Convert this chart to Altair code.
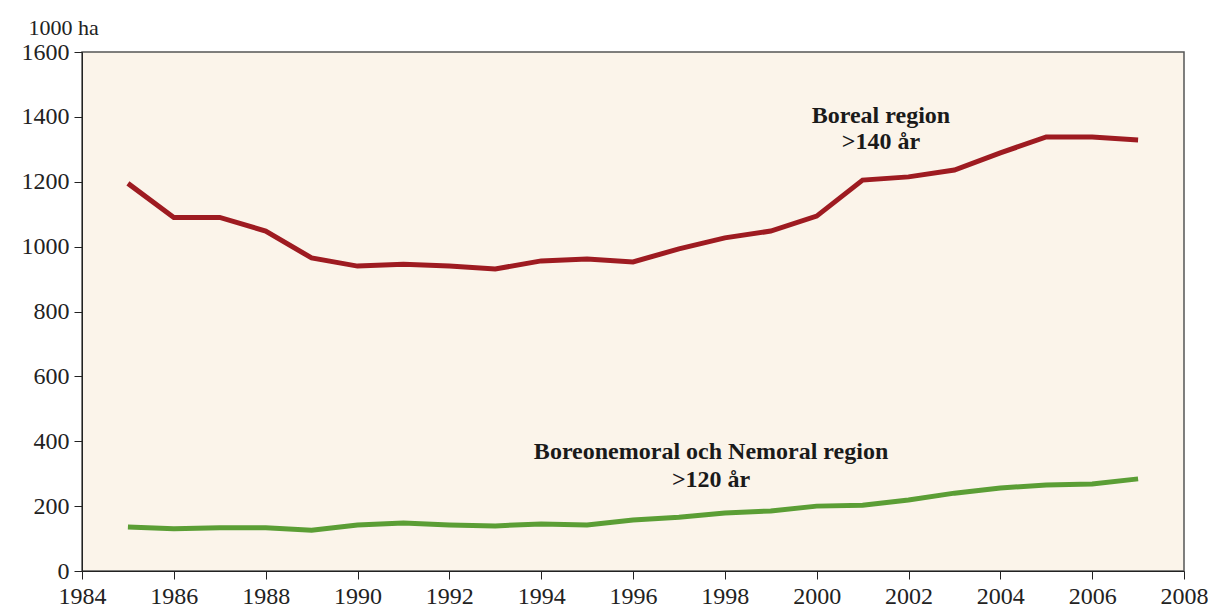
import altair as alt
import pandas as pd

years = list(range(1985, 2008))
boreal = [1195, 1090, 1090, 1048, 965, 940, 946, 940, 931, 956, 962, 953, 993,
          1027, 1048, 1094, 1205, 1215, 1236, 1289, 1338, 1338, 1329]
nemoral = [136, 130, 133, 133, 126, 142, 148, 142, 139, 145, 142, 157, 166,
           179, 185, 200, 203, 219, 240, 256, 265, 268, 284]
series_names = ["Boreal region >140 år", "Boreonemoral och Nemoral region >120 år"]
series_colors = ["#9E1B21", "#5B9E35"]

label_text = ["Boreal region", ">140 år", "Boreonemoral och Nemoral region", ">120 år"]
label_x = [2001.4, 2001.4, 1997.7, 1997.7]
label_y = [1403, 1322, 367, 280]

x_ticks = list(range(1984, 2009, 2))
y_ticks = list(range(0, 1601, 200))

df = pd.DataFrame({
    "year": years * 2,
    "value": boreal + nemoral,
    "series": [series_names[0]] * len(years) + [series_names[1]] * len(years),
})
labels = pd.DataFrame({"text": label_text, "x": label_x, "y": label_y})

FONT = "Liberation Serif, Times New Roman, serif"

x_enc = alt.X("year:Q", scale=alt.Scale(domain=[1984, 2008], nice=False),
              axis=alt.Axis(values=x_ticks, format="d", title=None, grid=False,
                            labelFontSize=24, labelFont=FONT, labelColor="#222",
                            tickSize=8, domainColor="#222", tickColor="#222",
                            labelPadding=5, labelFlush=False))
y_enc = alt.Y("value:Q", scale=alt.Scale(domain=[0, 1600], nice=False),
              axis=alt.Axis(values=y_ticks, format="d", title="1000 ha", grid=False,
                            labelFontSize=24, labelFont=FONT, labelColor="#222",
                            tickSize=8, domainColor="#222", tickColor="#222",
                            labelPadding=5,
                            titleAngle=0, titleAlign="left", titleBaseline="alphabetic",
                            titleX=-54, titleY=-18, titleFont=FONT,
                            titleFontSize=22, titleFontWeight="normal", titleColor="#222"))

lines = alt.Chart(df).mark_line(strokeWidth=5).encode(
    x=x_enc, y=y_enc,
    color=alt.Color("series:N", scale=alt.Scale(domain=series_names, range=series_colors),
                    legend=None),
)

texts = alt.Chart(labels).mark_text(font=FONT, fontSize=24, fontWeight="bold",
                                    color="#1a1a1a", align="center", baseline="middle").encode(
    x=alt.X("x:Q"), y=alt.Y("y:Q"), text="text:N"
)

chart = alt.layer(lines, texts).properties(
    width=1102, height=519,
    autosize=alt.AutoSizeParams(type="none"),
    padding={"left": 74, "top": 44, "right": 24, "bottom": 40},
    background="white",
).configure_view(fill="#FBF4EA", stroke="#555", strokeWidth=1.5)

chart.save("out.html", embed_options={"renderer": "svg", "actions": False})
